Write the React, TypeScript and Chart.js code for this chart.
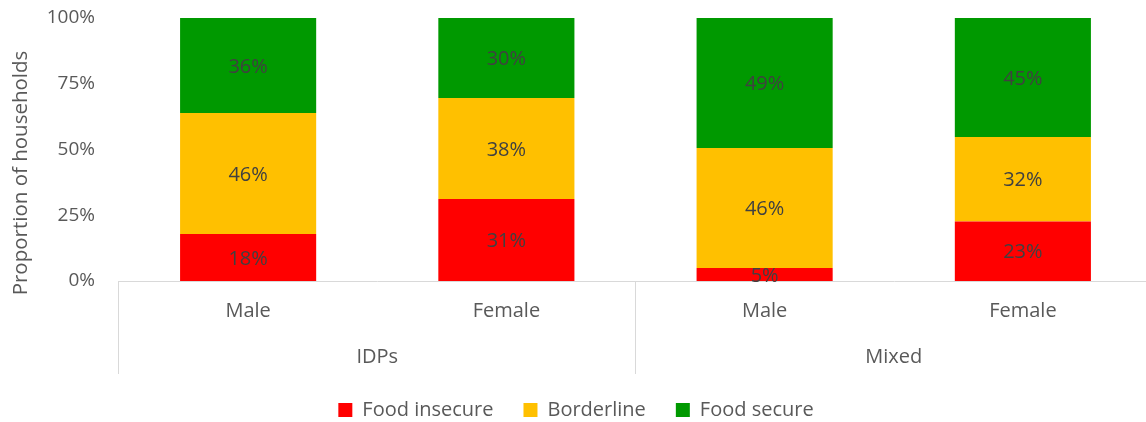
import React, { useEffect, useRef } from 'react';
import { Chart, registerables } from 'chart.js';

Chart.register(...registerables);

const subgroups = ['Male', 'Female', 'Male', 'Female'];
const groups = ['IDPs', 'Mixed'];
const foodInsecure = [17.9, 31.2, 4.9, 22.6];
const borderline = [46.0, 38.4, 45.7, 32.2];
const foodSecure = [36.1, 30.4, 49.4, 45.2];
const seriesNames = ['Food insecure', 'Borderline', 'Food secure'];
const seriesColors = ['#FF0000', '#FFC000', '#009900'];
const yTitle = 'Proportion of households';

const FAMILY = "'Open Sans', 'Noto Sans', sans-serif";

const dataLabels = {
  id: 'dataLabels',
  afterDatasetsDraw(chart: any) {
    const ctx = chart.ctx;
    ctx.save();
    ctx.font = `20px ${FAMILY}`;
    ctx.fillStyle = '#404040';
    ctx.textAlign = 'center';
    ctx.textBaseline = 'middle';
    chart.data.datasets.forEach((ds: any, di: number) => {
      const meta = chart.getDatasetMeta(di);
      meta.data.forEach((el: any, i: number) => {
        const { x, y } = el.getCenterPoint();
        ctx.fillText(Math.round(ds.data[i]) + '%', x, y + 1.5);
      });
    });
    ctx.restore();
  },
};

const groupAxis = {
  id: 'groupAxis',
  afterDraw(chart: any) {
    const xs = chart.scales.x;
    const area = chart.chartArea;
    const ctx = chart.ctx;
    const p = (i: number) => xs.getPixelForValue(i);
    const half = (p(1) - p(0)) / 2;
    const bounds = [p(0) - half, (p(1) + p(2)) / 2, p(3) + half];
    ctx.save();
    ctx.strokeStyle = '#d9d9d9';
    ctx.lineWidth = 1;
    bounds.forEach((b) => {
      const bx = Math.round(b) - 0.5;
      ctx.beginPath();
      ctx.moveTo(bx, area.bottom);
      ctx.lineTo(bx, area.bottom + 93);
      ctx.stroke();
    });
    ctx.font = `20px ${FAMILY}`;
    ctx.fillStyle = '#595959';
    ctx.textAlign = 'center';
    ctx.textBaseline = 'middle';
    groups.forEach((g, gi) => {
      ctx.fillText(g, (p(gi * 2) + p(gi * 2 + 1)) / 2, area.bottom + 76);
    });
    ctx.translate(21, 173);
    ctx.rotate(-Math.PI / 2);
    ctx.font = `20.5px ${FAMILY}`;
    ctx.fillText(yTitle, 0, 0);
    ctx.restore();
  },
};

export default function App() {
  const ref = useRef<HTMLCanvasElement | null>(null);
  useEffect(() => {
    if (!ref.current) return;
    const data = [foodInsecure, borderline, foodSecure];
    const chart = new Chart(ref.current, {
      type: 'bar',
      data: {
        labels: subgroups,
        datasets: seriesNames.map((name, i) => ({
          label: name,
          data: data[i],
          backgroundColor: seriesColors[i],
          borderWidth: 0,
          barPercentage: 0.527,
          categoryPercentage: 1,
        })),
      },
      options: {
        responsive: false,
        animation: false,
        devicePixelRatio: 1,
        layout: { padding: { top: 18, right: 10, left: 0, bottom: 0 } },
        plugins: {
          legend: {
            position: 'bottom',
            maxHeight: 52,
            labels: {
              boxWidth: 14,
              boxHeight: 14,
              padding: 30,
              color: '#595959',
              font: { size: 20, family: FAMILY },
            },
          },
          tooltip: { enabled: false },
        },
        scales: {
          x: {
            stacked: true,
            grid: { display: false, drawTicks: false },
            border: { display: true, color: '#d9d9d9', width: 1 },
            ticks: {
              color: '#595959',
              font: { size: 20, family: FAMILY },
              padding: 18,
              maxRotation: 0,
              autoSkip: false,
            },
            afterFit: (s: any) => {
              s.height = 89;
              s.paddingLeft = 0;
              s.paddingRight = 0;
            },
          },
          y: {
            stacked: true,
            min: 0,
            max: 100,
            grid: { display: false, drawTicks: false },
            border: { display: false },
            ticks: {
              stepSize: 25,
              callback: (v: any) => v + '%',
              color: '#595959',
              font: { size: 19, family: FAMILY },
              padding: 24,
            },
            afterFit: (s: any) => {
              s.width = 119;
              s.paddingTop = 0;
              s.paddingBottom = 0;
            },
          },
        },
      },
      plugins: [dataLabels, groupAxis],
    } as any);
    return () => chart.destroy();
  }, []);
  return (
    <div style={{ position: 'fixed', left: 0, top: 0, width: 1146, height: 422, overflow: 'hidden', background: '#fff' }}>
      <canvas ref={ref} width={1162} height={422} />
    </div>
  );
}
